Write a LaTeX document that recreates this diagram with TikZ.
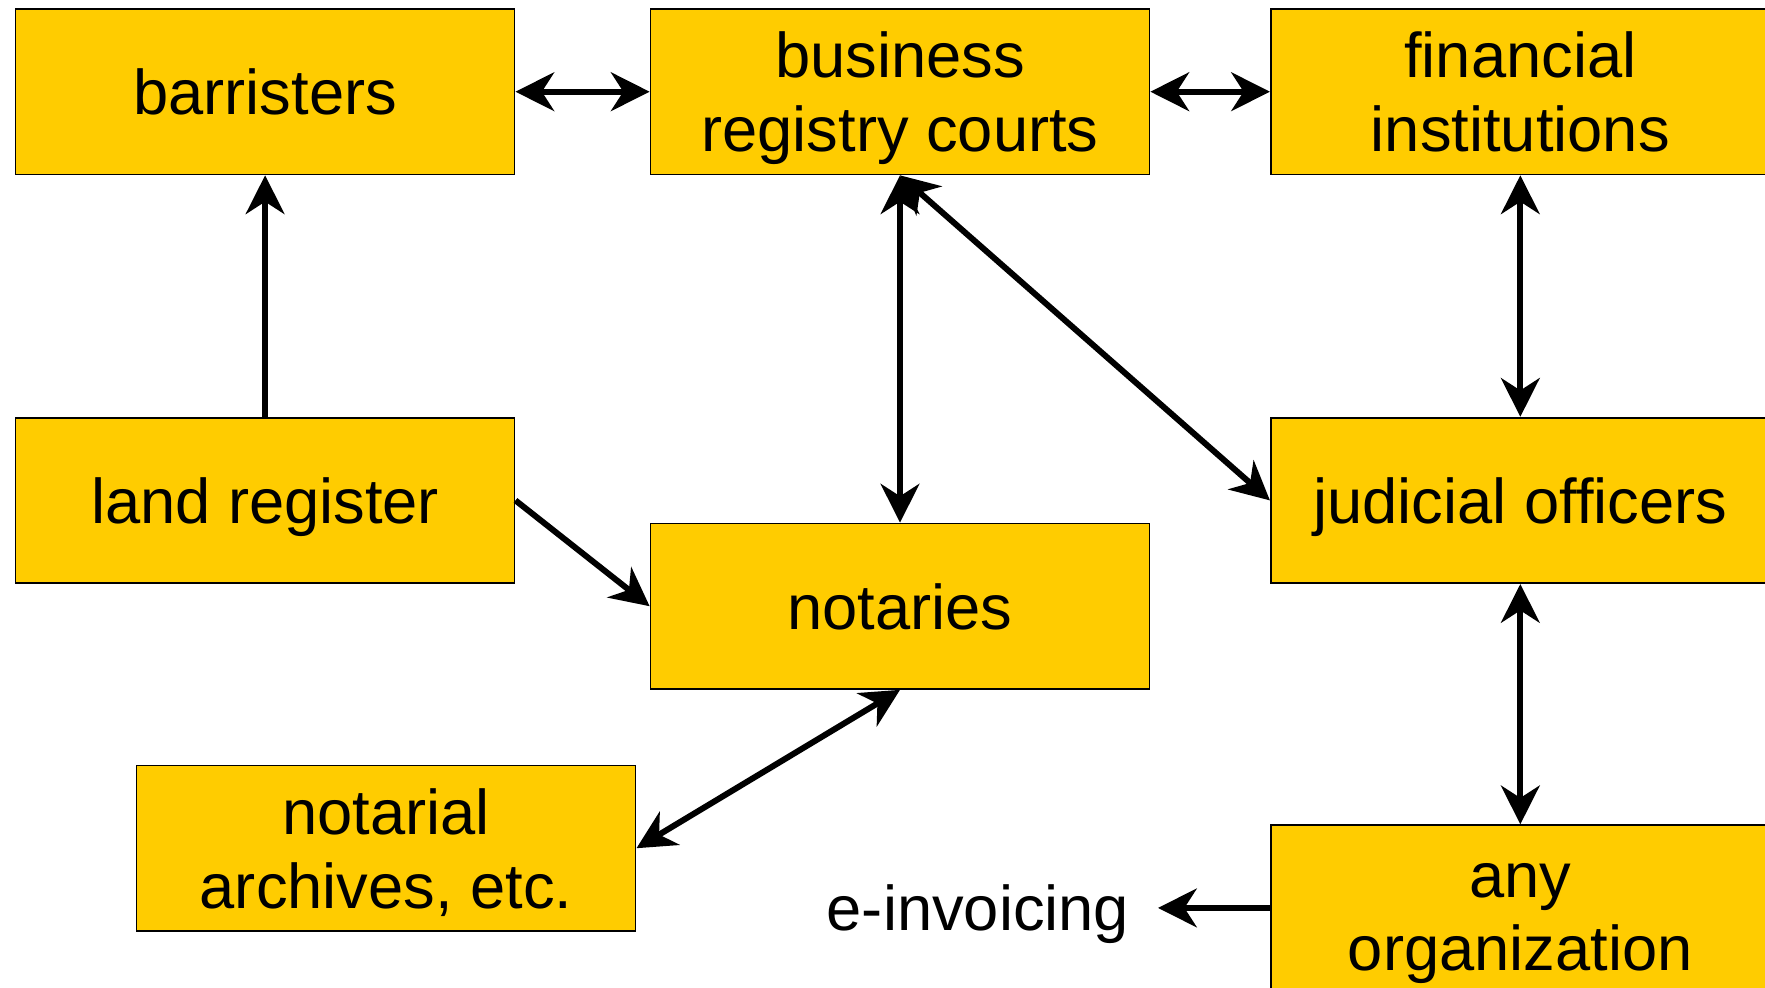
\documentclass[tikz,border=0pt]{standalone}
\usepackage{fontspec}
\setmainfont{Liberation Sans}
\usetikzlibrary{arrows.meta}
\definecolor{boxyellow}{HTML}{FFCC00}
\begin{document}
\begin{tikzpicture}[
    agency/.style={draw=black, line width=0.5pt, fill=boxyellow, minimum width=4.99cm, minimum height=1.655cm, align=center, inner sep=0pt, text depth=0pt, font=\fontsize{18}{21}\selectfont},
    link/.style={line width=1.7pt, -{Stealth[length=11pt,width=11pt,inset=3.5pt]}},
    both/.style={line width=1.7pt, {Stealth[length=11pt,width=11pt,inset=3.5pt]}-{Stealth[length=11pt,width=11pt,inset=3.5pt]}}
  ]
      \useasboundingbox (0,0) rectangle (17.65,-9.87);
      \node[agency] (barr) at (2.651,-0.917) {barristers};
      \node[agency] (biz) at (9.0,-0.917) {business\\registry courts};
      \node[agency] (fin) at (15.203,-0.917) {financial\\institutions};

      \node[agency] (land) at (2.651,-5.004) {land register};
      \node[agency] (jud) at (15.203,-5.004) {judicial officers};
      \node[agency] (notar) at (9.0,-6.062) {notaries};

      \node[agency] (arch) at (3.861,-8.482) {notarial\\archives, etc.};
      \node[agency, minimum height=1.835cm] (anyorg) at (15.203,-9.169) {any\\organization};
      \node[font=\fontsize{18}{21}\selectfont, inner xsep=8pt, text depth=0pt] (einv) at (9.78,-9.079) {e-invoicing};

      \draw[both] (barr) -- (biz);
      \draw[both] (biz) -- (fin);
      \draw[link] (land) -- (barr);
      \draw[both] (biz.south) -- (notar.north);
      \draw[both] (biz.south) -- (jud.west);
      \draw[both] (fin) -- (jud);
      \draw[link] (land.east) -- (notar.west);
      \draw[both] (notar.south) -- (arch.east);
      \draw[both] (jud) -- (anyorg);
      \draw[link] (anyorg.west |- einv) -- (einv.east);
    \end{tikzpicture}
\end{document}
